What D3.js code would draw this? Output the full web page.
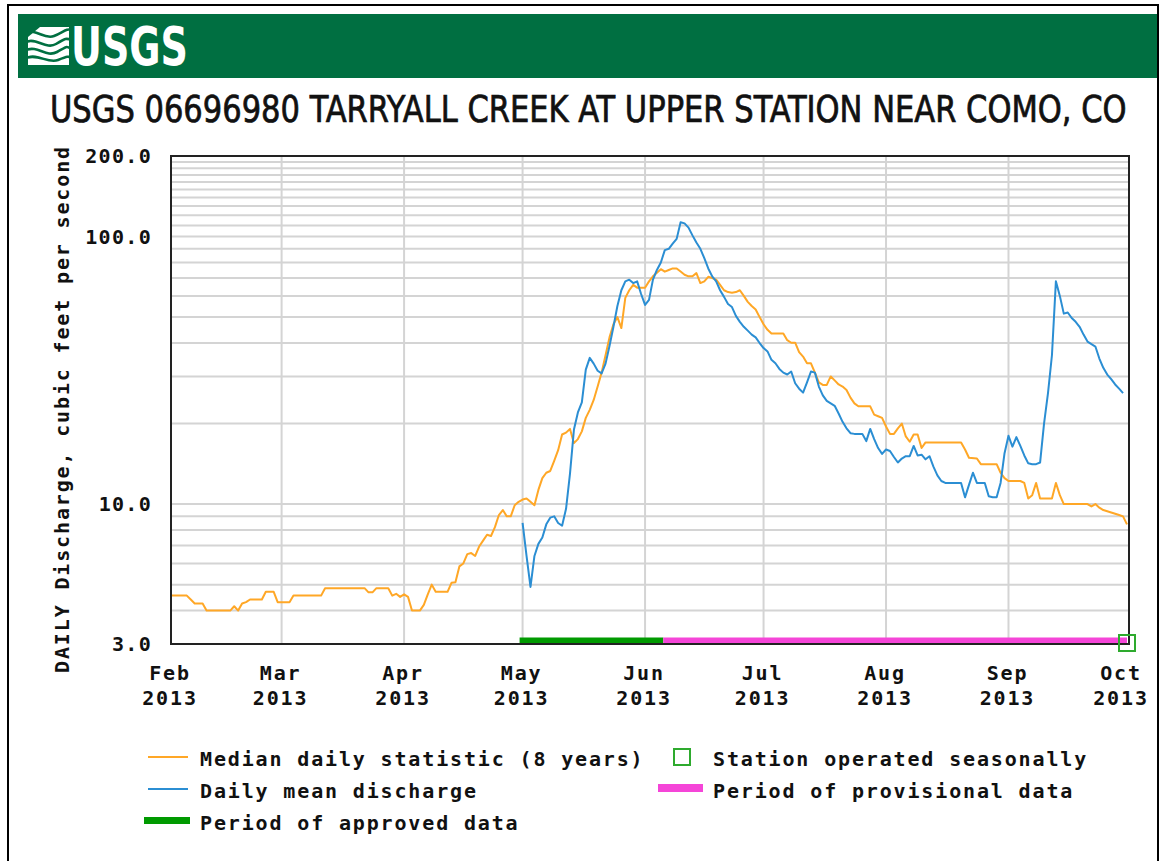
<!DOCTYPE html>
<html><head><meta charset="utf-8">
<script src="https://cdn.jsdelivr.net/npm/d3@7"></script>
<style>html,body{margin:0;padding:0;background:#fff}svg{display:block}</style>
</head><body>
<script>
// ---------------- data ----------------
const titleText = "USGS 06696980 TARRYALL CREEK AT UPPER STATION NEAR COMO, CO";
const yAxisTitle = "DAILY Discharge, cubic feet per second";
const yTickValues = [3, 10, 100, 200];
const yTickLabels = ["3.0", "10.0", "100.0", "200.0"];
const yGridValues = [4,5,6,7,8,9,10,20,30,40,50,60,70,80,90,100,110,120,130,140,150,160,170,180,190];
const monthTicks = ["2013-02-01","2013-03-01","2013-04-01","2013-05-01","2013-06-01","2013-07-01","2013-08-01","2013-09-01","2013-10-01"];
const monthLabels = ["Feb","Mar","Apr","May","Jun","Jul","Aug","Sep","Oct"];
const yearLabel = "2013";

const medianData = [
["2013-02-01",4.55],["2013-02-05",4.55],["2013-02-06",4.4],["2013-02-07",4.25],["2013-02-09",4.25],["2013-02-10",4.0],["2013-02-16",4.0],["2013-02-17",4.15],["2013-02-18",4.0],["2013-02-19",4.25],["2013-02-20",4.3],["2013-02-21",4.4],["2013-02-24",4.4],["2013-02-25",4.7],["2013-02-27",4.7],["2013-02-28",4.3],
["2013-03-03",4.3],["2013-03-04",4.55],["2013-03-11",4.55],["2013-03-12",4.85],["2013-03-22",4.85],["2013-03-23",4.68],["2013-03-24",4.68],["2013-03-25",4.85],["2013-03-28",4.85],["2013-03-29",4.55],["2013-03-30",4.62],["2013-03-31",4.5],
["2013-04-01",4.6],["2013-04-02",4.5],["2013-04-03",4.0],["2013-04-05",4.0],["2013-04-06",4.2],["2013-04-07",4.6],["2013-04-08",5.0],["2013-04-09",4.7],["2013-04-12",4.7],["2013-04-13",5.08],["2013-04-14",5.1],["2013-04-15",5.85],["2013-04-16",6.0],["2013-04-17",6.5],["2013-04-18",6.56],["2013-04-19",6.4],["2013-04-20",6.94],["2013-04-21",7.3],["2013-04-22",7.68],["2013-04-23",7.6],["2013-04-24",8.2],["2013-04-25",9.1],["2013-04-26",9.5],["2013-04-27",9.0],["2013-04-28",9.0],["2013-04-29",9.9],["2013-04-30",10.2],
["2013-05-01",10.4],["2013-05-02",10.5],["2013-05-03",10.2],["2013-05-04",9.9],["2013-05-05",11.3],["2013-05-06",12.5],["2013-05-07",13.1],["2013-05-08",13.3],["2013-05-09",14.5],["2013-05-10",15.9],["2013-05-11",18.2],["2013-05-12",18.5],["2013-05-13",19.1],["2013-05-14",16.9],["2013-05-15",17.5],["2013-05-16",18.7],["2013-05-17",21],["2013-05-18",22.5],["2013-05-19",24.5],["2013-05-20",27.5],["2013-05-21",31],["2013-05-22",36],["2013-05-23",42],["2013-05-24",47],["2013-05-25",50],["2013-05-26",45.5],["2013-05-27",59],["2013-05-28",63],["2013-05-29",66],["2013-05-30",64.4],["2013-05-31",64.4],
["2013-06-01",64.4],["2013-06-02",68],["2013-06-03",71],["2013-06-04",73.2],["2013-06-05",75.5],["2013-06-06",73.9],["2013-06-07",75],["2013-06-08",76],["2013-06-09",76],["2013-06-10",74],["2013-06-11",72],["2013-06-12",71],["2013-06-13",71],["2013-06-14",73],["2013-06-15",67],["2013-06-16",68],["2013-06-17",70.7],["2013-06-18",70],["2013-06-19",69],["2013-06-20",66],["2013-06-21",63],["2013-06-22",62],["2013-06-23",61.7],["2013-06-24",62],["2013-06-25",63],["2013-06-26",60],["2013-06-27",57],["2013-06-28",55],["2013-06-29",53.4],["2013-06-30",50],
["2013-07-01",47],["2013-07-02",44.8],["2013-07-03",43.4],["2013-07-06",43.4],["2013-07-07",41],["2013-07-08",40.1],["2013-07-09",40.1],["2013-07-10",37],["2013-07-11",35.6],["2013-07-12",33.6],["2013-07-13",33.6],["2013-07-14",31],["2013-07-15",28.5],["2013-07-16",27.9],["2013-07-17",27.9],["2013-07-18",30],["2013-07-19",29],["2013-07-20",28],["2013-07-21",27.5],["2013-07-22",26.7],["2013-07-23",25],["2013-07-24",23.8],["2013-07-25",23.2],["2013-07-28",23.2],["2013-07-29",21.6],["2013-07-30",21.3],["2013-07-31",21.0],
["2013-08-01",19.5],["2013-08-02",18.3],["2013-08-03",18.3],["2013-08-04",19.2],["2013-08-05",20],["2013-08-06",17.9],["2013-08-07",17.1],["2013-08-08",18.2],["2013-08-09",18.2],["2013-08-10",16.2],["2013-08-11",17.0],["2013-08-20",17.0],["2013-08-21",16],["2013-08-22",14.9],["2013-08-24",14.8],["2013-08-25",14.1],["2013-08-29",14.1],["2013-08-30",13.1],["2013-08-31",12.5],
["2013-09-01",12.2],["2013-09-04",12.2],["2013-09-05",12.0],["2013-09-06",10.5],["2013-09-07",10.8],["2013-09-08",12.0],["2013-09-09",10.5],["2013-09-12",10.5],["2013-09-13",12.0],["2013-09-14",10.8],["2013-09-15",10.0],["2013-09-21",10.0],["2013-09-22",9.8],["2013-09-23",10.0],["2013-09-24",9.7],["2013-09-25",9.5],["2013-09-27",9.3],["2013-09-28",9.2],["2013-09-29",9.1],["2013-09-30",9.0],["2013-10-01",8.4]
];

const meanData = [
["2013-05-01",8.5],["2013-05-02",6.4],["2013-05-03",4.9],["2013-05-04",6.4],["2013-05-05",7.1],["2013-05-06",7.5],["2013-05-07",8.4],["2013-05-08",8.9],["2013-05-09",9.0],["2013-05-10",8.5],["2013-05-11",8.3],["2013-05-12",9.6],["2013-05-13",13],["2013-05-14",19],["2013-05-15",22],["2013-05-16",24],["2013-05-17",31.8],["2013-05-18",35.2],["2013-05-19",33.5],["2013-05-20",31.5],["2013-05-21",30.8],["2013-05-22",33.5],["2013-05-23",39],["2013-05-24",46],["2013-05-25",55],["2013-05-26",63],["2013-05-27",68],["2013-05-28",69],["2013-05-29",67],["2013-05-30",68],["2013-05-31",61],
["2013-06-01",55.5],["2013-06-02",58],["2013-06-03",69],["2013-06-04",75],["2013-06-05",80],["2013-06-06",89],["2013-06-07",90],["2013-06-08",94],["2013-06-09",98],["2013-06-10",113],["2013-06-11",112],["2013-06-12",108],["2013-06-13",101],["2013-06-14",95],["2013-06-15",90],["2013-06-16",83],["2013-06-17",76],["2013-06-18",71],["2013-06-19",68],["2013-06-20",63],["2013-06-21",59.5],["2013-06-22",56],["2013-06-23",54.5],["2013-06-24",50.5],["2013-06-25",48],["2013-06-26",46],["2013-06-27",44.5],["2013-06-28",43],["2013-06-29",42],["2013-06-30",40],
["2013-07-01",38.3],["2013-07-02",37.2],["2013-07-03",34.6],["2013-07-04",33.6],["2013-07-05",32],["2013-07-06",31],["2013-07-07",30.5],["2013-07-08",31.3],["2013-07-09",28.3],["2013-07-10",27],["2013-07-11",26.1],["2013-07-12",28.5],["2013-07-13",31.3],["2013-07-14",31],["2013-07-15",27.5],["2013-07-16",25.5],["2013-07-17",24.3],["2013-07-18",23.8],["2013-07-19",23.3],["2013-07-20",21.8],["2013-07-21",20.3],["2013-07-22",19.2],["2013-07-23",18.4],["2013-07-24",18.3],["2013-07-25",18.3],["2013-07-26",18.3],["2013-07-27",17.2],["2013-07-28",19.1],["2013-07-29",17.5],["2013-07-30",16.2],["2013-07-31",15.4],
["2013-08-01",16.0],["2013-08-02",15.8],["2013-08-03",15.0],["2013-08-04",14.3],["2013-08-05",14.8],["2013-08-06",15.1],["2013-08-07",15.1],["2013-08-08",16.5],["2013-08-09",15.2],["2013-08-10",15.3],["2013-08-11",14.7],["2013-08-12",15.1],["2013-08-13",13.8],["2013-08-14",12.8],["2013-08-15",12.2],["2013-08-16",12.0],["2013-08-20",12.0],["2013-08-21",10.6],["2013-08-22",11.8],["2013-08-23",13.1],["2013-08-24",12.0],["2013-08-26",12.0],["2013-08-27",10.7],["2013-08-28",10.6],["2013-08-29",10.6],["2013-08-30",12.0],["2013-08-31",15.5],
["2013-09-01",18.0],["2013-09-02",16.4],["2013-09-03",17.8],["2013-09-04",16.5],["2013-09-05",15.2],["2013-09-06",14.2],["2013-09-07",14.1],["2013-09-08",14.1],["2013-09-09",14.3],["2013-09-10",20],["2013-09-11",26],["2013-09-12",36],["2013-09-13",68],["2013-09-14",60],["2013-09-15",51.5],["2013-09-16",52],["2013-09-17",49.6],["2013-09-18",48],["2013-09-19",46],["2013-09-20",43],["2013-09-21",40.5],["2013-09-22",39.6],["2013-09-23",38.8],["2013-09-24",35],["2013-09-25",32.3],["2013-09-26",30.5],["2013-09-27",29.3],["2013-09-28",28],["2013-09-29",27],["2013-09-30",26.0]
];

const approvedPeriod = ["2013-05-01", "2013-06-06"];
const provisionalPeriod = ["2013-06-06", "2013-10-01"];
const seasonalMarkerDate = "2013-10-01";

const legendLeft = ["Median daily statistic (8 years)", "Daily mean discharge", "Period of approved data"];
const legendRight = ["Station operated seasonally", "Period of provisional data"];

// ---------------- colors ----------------
const C = {
  usgsGreen: "#006F41", median: "#FFA726", mean: "#2B8ED3",
  approved: "#009A00", provisional: "#F545D8", seasonal: "#2EAA2E",
  grid: "#D4D4D4", frame: "#222"
};

// ---------------- drawing ----------------
const W = 1166, H = 861;
const svg = d3.select("body").append("svg").attr("width", W).attr("height", H);
const parse = d3.utcParse("%Y-%m-%d");

const mono = "'DejaVu Sans Mono', 'Liberation Mono', monospace";

// outer border
svg.append("rect").attr("x", 8).attr("y", 5).attr("width", 1150).attr("height", 900)
  .attr("fill", "#fff").attr("stroke", "#000").attr("stroke-width", 2);

// header band
svg.append("rect").attr("x", 18).attr("y", 14).attr("width", 1139).attr("height", 64).attr("fill", C.usgsGreen);
// logo icon
const icon = svg.append("g");
icon.append("clipPath").attr("id", "iconclip").append("rect").attr("x", 28).attr("y", 27).attr("width", 41).attr("height", 38);
const ig = icon.append("g").attr("clip-path", "url(#iconclip)");
ig.append("rect").attr("x", 28).attr("y", 27).attr("width", 41).attr("height", 38).attr("fill", "#fff");
[
  "M26,33 C36,28 44,40 54,36 S66,28 72,30",
  "M26,42 C36,37 46,50 56,44 S66,38 72,40",
  "M26,50 C38,45 46,58 57,52 S66,46 72,49",
  "M26,58 C38,53 48,64 58,60 S68,56 72,58"
].forEach(p => ig.append("path").attr("d", p).attr("fill", "none").attr("stroke", C.usgsGreen).attr("stroke-width", 2.6));
ig.append("path").attr("d", "M28,27 L40,27 L28,37 Z").attr("fill", C.usgsGreen);

// logo word, fitted horizontally with a scale transform
const logoText = svg.append("text")
  .attr("font-family", "'Liberation Sans Narrow', 'DejaVu Sans Condensed', 'Liberation Sans', sans-serif")
  .attr("font-weight", "bold").attr("font-size", 54).attr("fill", "#fff").text("USGS");
const logoLen = logoText.node().getComputedTextLength();
logoText.attr("transform", `translate(71,65) scale(${117 / logoLen},1)`);

// title, fitted horizontally with a scale transform
const title = svg.append("text")
  .attr("font-family", "'Liberation Sans Narrow', 'DejaVu Sans Condensed', sans-serif")
  .attr("font-size", 37).attr("fill", "#111").attr("stroke", "#111").attr("stroke-width", 0.7)
  .text(titleText);
const titleLen = title.node().getComputedTextLength();
title.attr("transform", `translate(50,122) scale(${1077 / titleLen},1)`);

// scales
const x0 = parse(monthTicks[0]), x1 = parse(monthTicks[monthTicks.length - 1]);
const x = d3.scaleUtc().domain([x0, x1]).range([171, 1127]);
const y = d3.scaleLog().domain([3, 200]).range([644, 156]);
const plotL = 171, plotR = 1129, plotT = 156, plotB = 644;

// grid
const grid = svg.append("g");
grid.selectAll("line.h").data(yGridValues).join("line")
  .attr("x1", plotL).attr("x2", plotR).attr("y1", d => y(d)).attr("y2", d => y(d))
  .attr("stroke", C.grid).attr("stroke-width", 2);
grid.selectAll("line.v").data(monthTicks.slice(1, -1)).join("line")
  .attr("x1", d => x(parse(d))).attr("x2", d => x(parse(d))).attr("y1", plotT).attr("y2", plotB)
  .attr("stroke", C.grid).attr("stroke-width", 2);

// lines
const line = d3.line().x(d => x(parse(d[0]))).y(d => y(d[1]));
svg.append("path").datum(medianData).attr("d", line).attr("fill", "none")
  .attr("stroke", C.median).attr("stroke-width", 2).attr("stroke-linejoin", "round");
svg.append("path").datum(meanData).attr("d", line).attr("fill", "none")
  .attr("stroke", C.mean).attr("stroke-width", 2).attr("stroke-linejoin", "round");

// frame
svg.append("rect").attr("x", plotL).attr("y", plotT).attr("width", plotR - plotL).attr("height", plotB - plotT)
  .attr("fill", "none").attr("stroke", C.frame).attr("stroke-width", 2);

// approval bars
svg.append("rect").attr("x", x(parse(approvedPeriod[0])) - 3).attr("y", 637.5)
  .attr("width", x(parse(approvedPeriod[1])) - x(parse(approvedPeriod[0])) + 1.5).attr("height", 5.5).attr("fill", C.approved);
svg.append("rect").attr("x", x(parse(provisionalPeriod[0])) - 1.5).attr("y", 637.5)
  .attr("width", x(parse(provisionalPeriod[1])) - x(parse(provisionalPeriod[0])) + 1.5).attr("height", 5.5).attr("fill", C.provisional);
svg.append("rect").attr("x", x(parse(seasonalMarkerDate)) - 8).attr("y", 635)
  .attr("width", 16).attr("height", 16).attr("fill", "none").attr("stroke", C.seasonal).attr("stroke-width", 2);

// y axis labels
const tstyle = s => s.attr("font-family", mono).attr("font-weight", "bold").attr("font-size", 20)
  .attr("letter-spacing", 1.85).attr("fill", "#111");
svg.selectAll("text.yl").data(yTickValues).join("text").call(tstyle)
  .attr("x", 152).attr("y", d => y(d) + 7).attr("text-anchor", "end").attr("letter-spacing", 1.3)
  .text((d, i) => yTickLabels[i]);
svg.append("text").call(tstyle)
  .attr("transform", "translate(69,409) rotate(-90)").attr("text-anchor", "middle").text(yAxisTitle);

// x axis labels
svg.selectAll("text.xm").data(monthTicks).join("text").call(tstyle)
  .attr("x", (d, i) => x(parse(d)) - (i === monthTicks.length - 1 ? 6 : 1)).attr("y", 680).attr("text-anchor", "middle")
  .text((d, i) => monthLabels[i]);
svg.selectAll("text.xy").data(monthTicks).join("text").call(tstyle)
  .attr("x", (d, i) => x(parse(d)) - (i === monthTicks.length - 1 ? 6 : 1)).attr("y", 705).attr("text-anchor", "middle")
  .text(yearLabel);

// legend
const lg = svg.append("g");
const rowY = [766, 798, 830];
lg.append("line").attr("x1", 148).attr("x2", 188).attr("y1", 757).attr("y2", 757).attr("stroke", C.median).attr("stroke-width", 2);
lg.append("line").attr("x1", 148).attr("x2", 188).attr("y1", 789).attr("y2", 789).attr("stroke", C.mean).attr("stroke-width", 2);
lg.append("rect").attr("x", 144).attr("y", 817).attr("width", 46).attr("height", 7).attr("fill", C.approved);
legendLeft.forEach((t, i) => lg.append("text").call(tstyle).attr("x", 200).attr("y", rowY[i]).text(t));
lg.append("rect").attr("x", 674).attr("y", 749).attr("width", 16).attr("height", 16).attr("fill", "none").attr("stroke", C.seasonal).attr("stroke-width", 2);
lg.append("rect").attr("x", 658).attr("y", 784).attr("width", 45).attr("height", 8).attr("fill", C.provisional);
legendRight.forEach((t, i) => lg.append("text").call(tstyle).attr("x", 713).attr("y", rowY[i]).text(t));
</script>
</body></html>
